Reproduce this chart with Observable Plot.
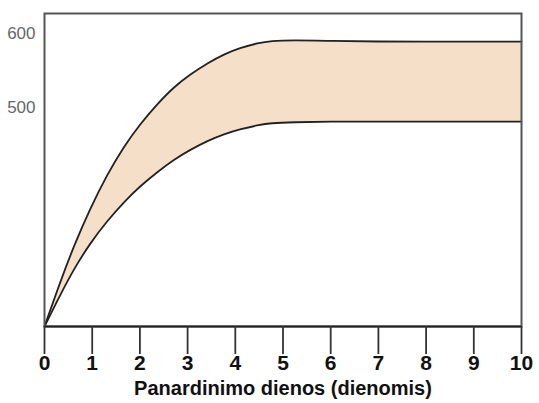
<!DOCTYPE html>
<html>
<head>
<meta charset="utf-8">
<script src="https://cdn.jsdelivr.net/npm/d3@7"></script>
<script src="https://cdn.jsdelivr.net/npm/@observablehq/plot@0.6"></script>
<style>
  html, body { margin: 0; padding: 0; background: #fff; }
  #chart svg { display: block; }
</style>
</head>
<body>
<div id="chart"></div>
<script>
const days  = [0, 0.34, 0.61, 0.96, 1.32, 1.66, 2.01, 2.37, 2.70, 3.06, 3.42, 3.76, 4.12, 4.47, 4.75, 5.2, 6, 7, 8, 9, 10];
const upper = [204, 266, 312, 364, 410, 447, 478, 505, 527, 545, 560, 572, 581, 587, 590, 591, 590, 589, 589, 589, 589];
const lower = [204, 248, 281, 317, 347, 372, 394, 413, 429, 443, 455, 464, 471, 476, 479, 480, 481, 481, 481, 481, 481];
const xTicks = [0, 1, 2, 3, 4, 5, 6, 7, 8, 9, 10];
const yTicks = [500, 600];
const xLabel = "Panardinimo dienos (dienomis)";

const data = days.map((d, i) => ({day: d, hi: upper[i], lo: lower[i]}));

const chart = Plot.plot({
  width: 539,
  height: 403,
  marginLeft: 44,
  marginRight: 18,
  marginTop: 13,
  marginBottom: 77,
  style: {fontFamily: "'Liberation Sans', Arial, sans-serif", background: "#fff"},
  x: {domain: [0, 10]},
  y: {domain: [204, 627]},
  marks: [
    Plot.areaY(data, {x: "day", y1: "lo", y2: "hi", fill: "#f5dfc8", curve: "basis"}),
    Plot.lineY(data, {x: "day", y: "hi", stroke: "#222", strokeWidth: 1.8, curve: "basis"}),
    Plot.lineY(data, {x: "day", y: "lo", stroke: "#222", strokeWidth: 1.8, curve: "basis"}),
    Plot.frame({stroke: "#555", strokeWidth: 2}),
    Plot.ruleY([204], {stroke: "#222", strokeWidth: 2}),
    Plot.axisX({ticks: xTicks, tickSize: 28, tickPadding: 1, fontSize: 21, fontWeight: "bold", stroke: "#333", strokeWidth: 1.8, fill: "#111", label: null}),
    Plot.axisY({ticks: yTicks, tickSize: 0, tickPadding: 9, fontSize: 17, fill: "#666", label: null}),
    Plot.text([xLabel], {frameAnchor: "bottom", dy: 68, fontSize: 20, fontWeight: "bold", fill: "#111"})
  ]
});
document.getElementById("chart").append(chart);
</script>
</body>
</html>
